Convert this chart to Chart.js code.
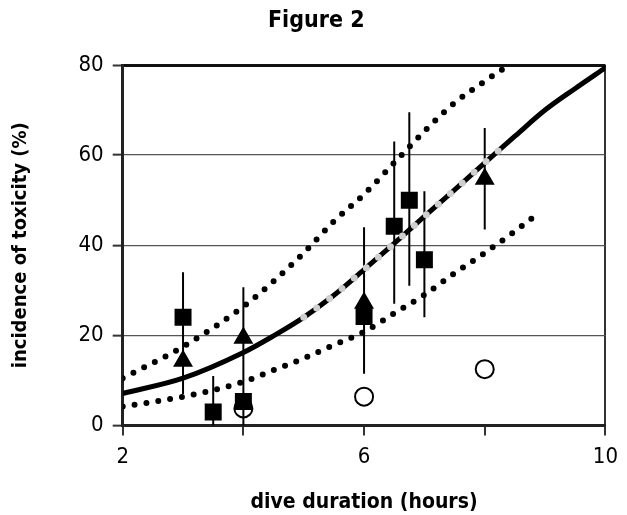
<!DOCTYPE html>
<html>
<head>
<meta charset="utf-8">
<script src="https://cdn.jsdelivr.net/npm/chart.js@4.4.1/dist/chart.umd.min.js"></script>
<style>
  html, body { margin: 0; padding: 0; background: #fff; }
  #wrap { width: 627px; height: 515px; }
</style>
</head>
<body>
<div id="wrap"><canvas id="fig2"></canvas></div>
<script>
// ── Data ───────────────────────────────────────────────────────────────────
const FONT = "'Liberation Sans Narrow', 'DejaVu Sans Condensed', Roboto, sans-serif";

const xTicksShown = [2, 6, 10];

// measured incidence, by marker
const squareX   = [3, 3.5, 4, 6, 6.5, 6.75, 7];
const squareY   = [24, 3, 5.3, 24.2, 44.2, 50, 36.8];
const triangleX = [3, 4, 6, 8];
const triangleY = [14.3, 19.4, 27.2, 54.7];
const circleX   = [4, 6, 8];
const circleY   = [3.8, 6.4, 12.5];

// vertical error bars (low / high)
const errX    = [3, 3.5, 4, 6, 6.5, 6.75, 7, 8];
const errLow  = [7, 0, 0, 11.5, 27, 31, 24, 43.5];
const errHigh = [34, 11, 30.7, 44, 63, 69.5, 52, 66];

// fitted curve and its bands
const fitX   = [2, 3, 4, 4.5, 5, 5.5, 6, 6.5, 7, 7.5, 8, 8.5, 9, 9.5, 10];
const fitY   = [7.1, 10.5, 16.2, 19.9, 24, 28.9, 34.6, 40.4, 46.4, 52.3, 58.3, 64.2, 70, 74.8, 79.4];
const grayX  = [5, 5.5, 6, 6.5, 7, 7.5, 8, 8.3];
const grayY  = [24, 28.9, 34.6, 40.4, 46.4, 52.3, 58.3, 61.8];
const upperX = [2, 3, 4, 4.5, 5, 5.5, 6, 6.5, 7, 7.5, 8, 8.4];
const upperY = [10.5, 17.5, 26.4, 32, 38.3, 45.3, 51.3, 58.3, 65.3, 71.6, 76.4, 80];
const lowerX = [2, 3, 4, 4.5, 5, 5.5, 6, 6.5, 7, 7.5, 8, 8.5, 8.9];
const lowerY = [4.2, 6.4, 9.7, 12.3, 14.9, 17.9, 20.8, 24.9, 29, 33.8, 38.3, 43.1, 47.2];

// ── Helpers ────────────────────────────────────────────────────────────────
const pts = (xs, ys) => xs.map((x, i) => ({ x, y: ys[i] }));

function errorSegments() {
  const out = [];
  errX.forEach((x, i) => {
    out.push({ x, y: errLow[i] }, { x, y: errHigh[i] }, { x, y: null });
  });
  return out;
}

function curve(xs, ys, color, width, dash) {
  return {
    type: "scatter",
    data: pts(xs, ys),
    showLine: true,
    borderColor: color,
    borderWidth: width,
    borderDash: dash,
    borderCapStyle: "round",
    cubicInterpolationMode: "monotone",
    pointRadius: 0,
    fill: false,
  };
}

function markers(xs, ys, style, radius, fill) {
  return {
    type: "scatter",
    data: pts(xs, ys),
    pointStyle: style,
    pointRadius: radius,
    pointBackgroundColor: fill,
    pointBorderColor: "#000",
    pointBorderWidth: 2,
  };
}

// ── Chart ──────────────────────────────────────────────────────────────────
// first dataset is drawn on top
const datasets = [
  curve(grayX, grayY, "#cfcfcf", 7, [0, 16]),
  curve(fitX, fitY, "#000", 5, []),
  markers(squareX, squareY, "rect", 10.6, "#000"),
  markers(triangleX, triangleY, "triangle", 9.5, "#000"),
  markers(circleX, circleY, "circle", 9, "transparent"),
  {
    type: "scatter",
    data: errorSegments(),
    showLine: true,
    spanGaps: false,
    borderColor: "#000",
    borderWidth: 2,
    pointRadius: 0,
  },
  curve(upperX, upperY, "#000", 6, [0, 12]),
  curve(lowerX, lowerY, "#000", 6, [0, 12]),
];

new Chart(document.getElementById("fig2"), {
  type: "scatter",
  data: { datasets },
  options: {
    responsive: true,
    maintainAspectRatio: false,
    animation: false,
    layout: { padding: { top: 0, right: 14.5, bottom: 0, left: 20 } },
    plugins: {
      legend: { display: false },
      tooltip: { enabled: false },
      title: {
        display: true,
        text: "Figure 2",
        color: "#000",
        font: { family: FONT, size: 23, weight: "bold" },
        padding: { top: 7.2, bottom: 30.2 },
      },
    },
    scales: {
      x: {
        type: "linear",
        min: 2,
        max: 10,
        afterFit: (s) => { s.height = 89.5; },
        ticks: {
          stepSize: 2,
          padding: 9,
          color: "#000",
          font: { family: FONT, size: 22 },
          callback: (v) => (xTicksShown.includes(v) ? String(v) : ""),
        },
        grid: {
          color: (c) => (c.tick && c.tick.value === 10 ? "#333" : "transparent"),
          lineWidth: 2,
          tickColor: "#333",
          tickLength: 10,
          tickWidth: 2,
        },
        border: { display: true, color: "#222", width: 3 },
        title: {
          display: true,
          text: "dive duration (hours)",
          color: "#000",
          font: { family: FONT, size: 21, weight: "bold", lineHeight: 1 },
          padding: { top: 0, bottom: 2 },
        },
      },
      y: {
        min: 0,
        max: 80,
        afterFit: (s) => { s.width = 102.7; },
        ticks: {
          stepSize: 20,
          padding: 9,
          color: "#000",
          font: { family: FONT, size: 22 },
        },
        grid: {
          color: (c) => {
            const v = c.tick ? c.tick.value : null;
            if (v === 0) return "transparent";
            return v === 80 ? "#111" : "#555";
          },
          lineWidth: (c) => (c.tick && c.tick.value === 80 ? 3 : 1.3),
          tickColor: "#333",
          tickLength: 10,
          tickWidth: 2,
        },
        border: { display: true, color: "#222", width: 3 },
        title: {
          display: true,
          text: "incidence of toxicity (%)",
          color: "#000",
          font: { family: FONT, size: 20, weight: "bold", lineHeight: 1.2 },
          padding: { top: -11, bottom: 0 },
        },
      },
    },
  },
});
</script>
</body>
</html>
